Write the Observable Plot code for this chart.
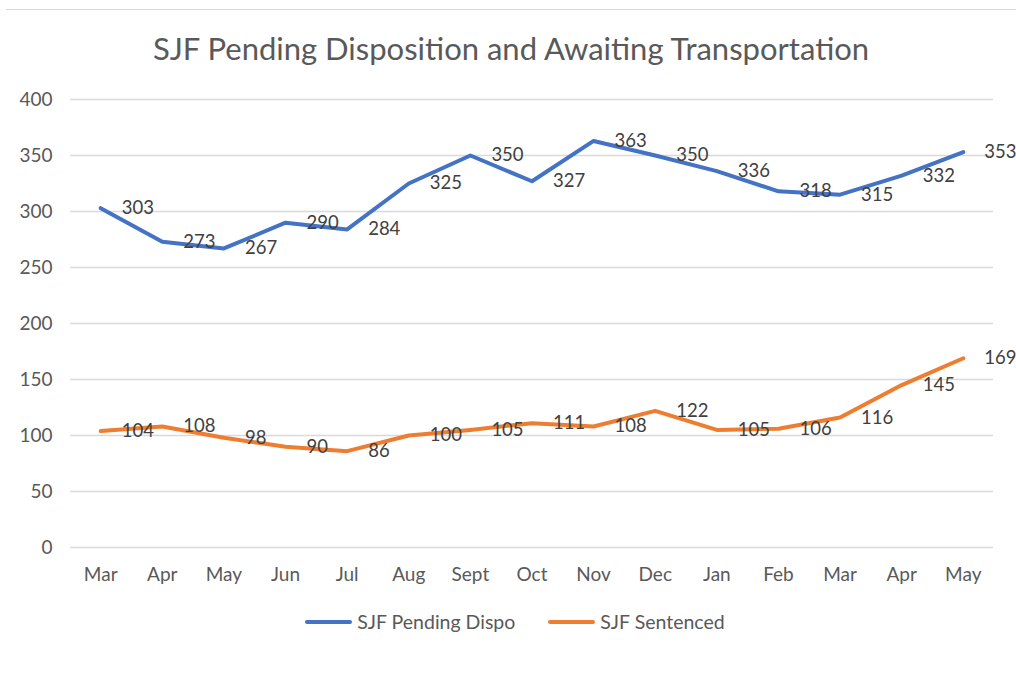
<!DOCTYPE html>
<html>
<head>
<meta charset="utf-8">
<script src="https://cdn.jsdelivr.net/npm/d3@7"></script>
<script src="https://cdn.jsdelivr.net/npm/@observablehq/plot@0.6"></script>
<style>
  html, body { margin: 0; padding: 0; background: #fff; }
  body { width: 1016px; height: 677px; position: relative; overflow: hidden; font-family: Lato, "Open Sans", sans-serif; }
  #border { position: absolute; left: 6px; right: 0; top: 9px; height: 0; border-top: 1px solid #d9d9d9; }
  #title { position: absolute; left: 0; width: 1022px; top: 29px; text-align: center; font-size: 31px; color: #595959; line-height: 38px; }
  #chart { position: absolute; left: 0; top: 75px; }
  #legend { position: absolute; left: 0; width: 1030px; top: 610px; display: flex; justify-content: center; gap: 33px; font-size: 19.5px; color: #595959; line-height: 24px; }
  .item { display: flex; align-items: center; }
  .sw { display: inline-block; width: 47px; height: 4px; border-radius: 2px; margin-right: 5px; }
</style>
</head>
<body>
<div id="border"></div>
<div id="title">SJF Pending Disposition and Awaiting Transportation</div>
<div id="chart"></div>
<div id="legend"></div>
<script>
const months = ["Mar","Apr","May","Jun","Jul","Aug","Sept","Oct","Nov","Dec","Jan","Feb","Mar","Apr","May"];
const pendingDispo = [303,273,267,290,284,325,350,327,363,350,336,318,315,332,353];
const sentenced = [104,108,98,90,86,100,105,111,108,122,105,106,116,145,169];
const seriesNames = ["SJF Pending Dispo","SJF Sentenced"];
const seriesColors = ["#4472C4","#ED7D31"];
const yTicks = [0,50,100,150,200,250,300,350,400];

const rows = [];
[pendingDispo, sentenced].forEach((vals, s) => {
  vals.forEach((v, i) => rows.push({i, value: v, series: seriesNames[s]}));
});

const plot = Plot.plot({
  width: 1016,
  height: 515,
  marginLeft: 70,
  marginRight: 23,
  marginTop: 24,
  marginBottom: 43,
  style: {fontFamily: "Lato, 'Open Sans', sans-serif", fontSize: "19px", color: "#595959", background: "transparent"},
  x: {type: "point", domain: months.map((_, i) => i), padding: 0.49, round: false, tickFormat: i => months[i], tickSize: 0, tickPadding: 20, label: null},
  y: {domain: [0, 400], ticks: yTicks, tickSize: 0, tickPadding: 18, label: null},
  color: {domain: seriesNames, range: seriesColors},
  marks: [
    Plot.ruleY(yTicks, {stroke: "#d9d9d9", strokeWidth: 1.3}),
    Plot.line(rows, {x: "i", y: "value", z: "series", stroke: "series", strokeWidth: 4, strokeLinejoin: "round", strokeLinecap: "round"}),
    Plot.text(rows, {x: "i", y: "value", text: d => String(d.value), textAnchor: "start", dx: 21, fill: "#404040", fontSize: 18.5})
  ]
});
document.getElementById("chart").appendChild(plot);

const legend = document.getElementById("legend");
seriesNames.forEach((n, k) => {
  const item = document.createElement("div");
  item.className = "item";
  const sw = document.createElement("span");
  sw.className = "sw";
  sw.style.background = seriesColors[k];
  const t = document.createElement("span");
  t.textContent = n;
  item.appendChild(sw);
  item.appendChild(t);
  legend.appendChild(item);
});
</script>
</body>
</html>
